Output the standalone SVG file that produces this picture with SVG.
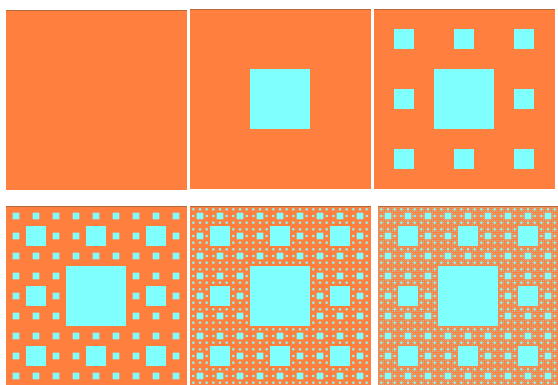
<svg xmlns="http://www.w3.org/2000/svg" xmlns:xlink="http://www.w3.org/1999/xlink" width="558" height="385" viewBox="0 0 558 385">
<style>
.bg{fill:#FF7F3F}
.hole{fill:#80FFFF}
.edge{stroke:#B8683A;stroke-width:1}
</style>
<defs>
<rect id="h1" class="hole" x="60" y="60" width="60" height="60"/>
<g id="h2">
<use xlink:href="#h1"/>
<use xlink:href="#h1" transform="translate(0,0) scale(0.3333333)"/>
<use xlink:href="#h1" transform="translate(60,0) scale(0.3333333)"/>
<use xlink:href="#h1" transform="translate(120,0) scale(0.3333333)"/>
<use xlink:href="#h1" transform="translate(0,60) scale(0.3333333)"/>
<use xlink:href="#h1" transform="translate(120,60) scale(0.3333333)"/>
<use xlink:href="#h1" transform="translate(0,120) scale(0.3333333)"/>
<use xlink:href="#h1" transform="translate(60,120) scale(0.3333333)"/>
<use xlink:href="#h1" transform="translate(120,120) scale(0.3333333)"/>
</g>
<g id="h3">
<use xlink:href="#h1"/>
<use xlink:href="#h2" transform="translate(0,0) scale(0.3333333)"/>
<use xlink:href="#h2" transform="translate(60,0) scale(0.3333333)"/>
<use xlink:href="#h2" transform="translate(120,0) scale(0.3333333)"/>
<use xlink:href="#h2" transform="translate(0,60) scale(0.3333333)"/>
<use xlink:href="#h2" transform="translate(120,60) scale(0.3333333)"/>
<use xlink:href="#h2" transform="translate(0,120) scale(0.3333333)"/>
<use xlink:href="#h2" transform="translate(60,120) scale(0.3333333)"/>
<use xlink:href="#h2" transform="translate(120,120) scale(0.3333333)"/>
</g>
<g id="h4">
<use xlink:href="#h1"/>
<use xlink:href="#h3" transform="translate(0,0) scale(0.3333333)"/>
<use xlink:href="#h3" transform="translate(60,0) scale(0.3333333)"/>
<use xlink:href="#h3" transform="translate(120,0) scale(0.3333333)"/>
<use xlink:href="#h3" transform="translate(0,60) scale(0.3333333)"/>
<use xlink:href="#h3" transform="translate(120,60) scale(0.3333333)"/>
<use xlink:href="#h3" transform="translate(0,120) scale(0.3333333)"/>
<use xlink:href="#h3" transform="translate(60,120) scale(0.3333333)"/>
<use xlink:href="#h3" transform="translate(120,120) scale(0.3333333)"/>
</g>
<g id="h5">
<use xlink:href="#h1"/>
<use xlink:href="#h4" transform="translate(0,0) scale(0.3333333)"/>
<use xlink:href="#h4" transform="translate(60,0) scale(0.3333333)"/>
<use xlink:href="#h4" transform="translate(120,0) scale(0.3333333)"/>
<use xlink:href="#h4" transform="translate(0,60) scale(0.3333333)"/>
<use xlink:href="#h4" transform="translate(120,60) scale(0.3333333)"/>
<use xlink:href="#h4" transform="translate(0,120) scale(0.3333333)"/>
<use xlink:href="#h4" transform="translate(60,120) scale(0.3333333)"/>
<use xlink:href="#h4" transform="translate(120,120) scale(0.3333333)"/>
</g>
<rect id="bg" class="bg" x="0" y="0" width="181" height="180"/>
<line id="top" class="edge" x1="0" y1="0.5" x2="181" y2="0.5"/>
</defs>
<rect width="558" height="385" fill="#FFFFFF"/>
<g id="panel0" transform="translate(6,10)">
<use xlink:href="#bg"/><use xlink:href="#top"/>
</g>
<g id="panel1" transform="translate(190,9)">
<use xlink:href="#bg"/><use xlink:href="#h1"/><use xlink:href="#top"/>
</g>
<g id="panel2" transform="translate(374,9)">
<use xlink:href="#bg"/><use xlink:href="#h2"/><use xlink:href="#top"/>
</g>
<g id="panel3" transform="translate(6,206)">
<use xlink:href="#bg"/><use xlink:href="#h3"/><use xlink:href="#top"/>
</g>
<g id="panel4" transform="translate(190,206)">
<use xlink:href="#bg"/><use xlink:href="#h4"/><use xlink:href="#top"/>
</g>
<g id="panel5" transform="translate(378,206)">
<use xlink:href="#bg"/><use xlink:href="#h5"/><use xlink:href="#top"/>
</g>
</svg>
